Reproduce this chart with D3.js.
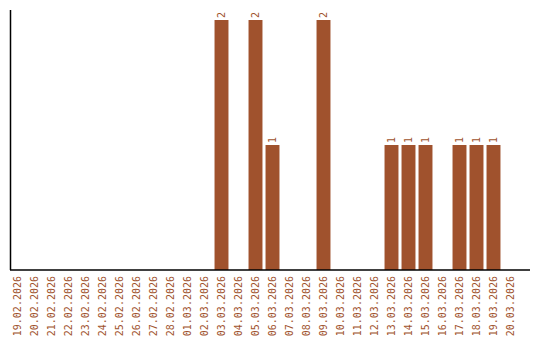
<!DOCTYPE html>
<html>
<head>
<meta charset="utf-8">
<script src="https://cdn.jsdelivr.net/npm/d3@7"></script>
<style>
  body { margin: 0; background: #fff; }
  svg { display: block; }
</style>
</head>
<body>
<svg id="chart" width="540" height="340"></svg>
<script>
(function(){
	'use strict';

	var dates = [
		'19.02.2026', '20.02.2026', '21.02.2026', '22.02.2026', '23.02.2026',
		'24.02.2026', '25.02.2026', '26.02.2026', '27.02.2026', '28.02.2026',
		'01.03.2026', '02.03.2026', '03.03.2026', '04.03.2026', '05.03.2026',
		'06.03.2026', '07.03.2026', '08.03.2026', '09.03.2026', '10.03.2026',
		'11.03.2026', '12.03.2026', '13.03.2026', '14.03.2026', '15.03.2026',
		'16.03.2026', '17.03.2026', '18.03.2026', '19.03.2026', '20.03.2026'
	];
	var counts = [
		0, 0, 0, 0, 0,
		0, 0, 0, 0, 0,
		0, 0, 2, 0, 2,
		1, 0, 0, 2, 0,
		0, 0, 1, 1, 1,
		0, 1, 1, 1, 0
	];

	var color = '#a0522d';
	var chart = d3.select('#chart');

	var x = d3.scaleBand()
		.domain(dates)
		.range([9, 519])
		.paddingInner(0.18)
		.paddingOuter(0.09);

	var y = d3.scaleLinear()
		.domain([0, d3.max(counts)])
		.range([270, 20]);

	var data = dates.map(function(d, i){ return { date: d, value: counts[i] }; });

	// bars
	chart.append('g')
		.selectAll('rect')
		.data(data.filter(function(d){ return d.value > 0; }))
		.enter().append('rect')
		.attr('x', function(d){ return x(d.date); })
		.attr('y', function(d){ return y(d.value); })
		.attr('width', x.bandwidth())
		.attr('height', function(d){ return y(0) - y(d.value); })
		.attr('fill', color);

	// value labels, rotated
	chart.append('g')
		.selectAll('text')
		.data(data.filter(function(d){ return d.value > 0; }))
		.enter().append('text')
		.text(function(d){ return d.value; })
		.attr('transform', function(d){
			return 'translate(' + (x(d.date) + x.bandwidth() / 2 + 3.5) + ',' + (y(d.value) - 2) + ') rotate(-90)';
		})
		.attr('font-family', 'DejaVu Sans Mono, monospace')
		.attr('font-size', '10px')
		.attr('fill', color);

	// x axis
	var xAxis = chart.append('g')
		.attr('transform', 'translate(0,270)')
		.call(d3.axisBottom(x).tickSize(0).tickPadding(0));
	xAxis.select('.domain').remove();
	xAxis.selectAll('text')
		.attr('transform', 'rotate(-90)')
		.attr('text-anchor', 'end')
		.attr('x', -6)
		.attr('y', 0)
		.attr('dy', '0.35em')
		.attr('font-family', 'DejaVu Sans Mono, monospace')
		.attr('font-size', '10px')
		.attr('fill', color);

	chart.append('line')
		.attr('x1', 10).attr('x2', 530)
		.attr('y1', 270).attr('y2', 270)
		.attr('stroke', '#000').attr('stroke-width', 1.5);

	chart.append('line')
		.attr('x1', 10.5).attr('x2', 10.5)
		.attr('y1', 10).attr('y2', 270)
		.attr('stroke', '#000').attr('stroke-width', 1.5);

})();
</script>
</body>
</html>
